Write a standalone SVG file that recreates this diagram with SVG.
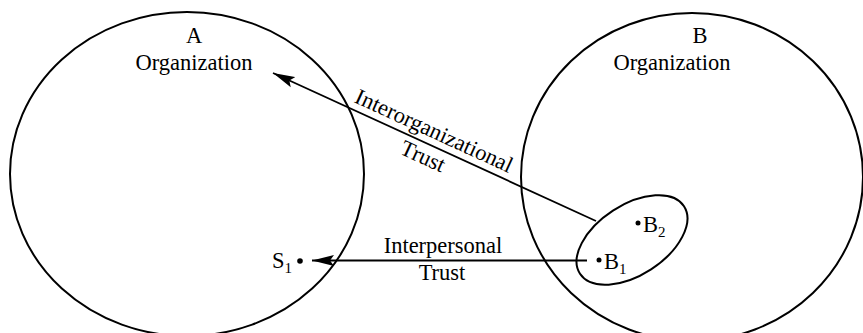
<svg xmlns="http://www.w3.org/2000/svg" width="863" height="333" viewBox="0 0 863 333">
<style>
.o{fill:none;stroke:#000;stroke-width:2}
.c{fill:none;stroke:#000;stroke-width:1.8}
.t{font-family:"Liberation Serif","Times New Roman",serif;font-size:22.5px;fill:#000}
.m{text-anchor:middle}
.s{font-size:15px}
</style>
<defs>
<marker id="ah" markerUnits="userSpaceOnUse" markerWidth="24" markerHeight="12" refX="22" refY="6" orient="auto" viewBox="0 0 24 12">
<path d="M0,0.5 L22,6 L0,11.5 L4,6 Z" fill="#000"/>
</marker>
</defs>
<rect width="863" height="333" fill="#fff"/>
<g id="orgA">
<ellipse class="o" cx="187" cy="174" rx="177" ry="162"/>
<text class="t m" x="194" y="43">A</text>
<text class="t m" x="194" y="70">Organization</text>
</g>
<g id="orgB">
<ellipse class="o" cx="692" cy="177" rx="171" ry="164"/>
<text class="t m" x="700" y="43">B</text>
<text class="t m" x="672" y="70">Organization</text>
</g>
<g id="groupB">
<ellipse class="o" cx="632" cy="240" rx="62" ry="35" transform="rotate(-33 632 240)"/>
</g>
<g id="B1">
<circle cx="599" cy="260" r="2.5"/>
<text class="t" x="604" y="269">B<tspan class="s" dy="5">1</tspan></text>
</g>
<g id="B2">
<circle cx="638" cy="223" r="2.5"/>
<text class="t" x="643" y="232">B<tspan class="s" dy="5">2</tspan></text>
</g>
<g id="S1">
<text class="t" x="272" y="268">S<tspan class="s" dy="5">1</tspan></text>
<circle cx="300" cy="261" r="2.8"/>
</g>
<g id="connectors">
<line class="c" x1="587" y1="260.5" x2="312" y2="260.5" marker-end="url(#ah)"/>
<line class="c" x1="596" y1="221" x2="273" y2="73" marker-end="url(#ah)"/>
</g>
<g id="labels">
<text class="t m" x="431" y="137.5" transform="rotate(24.6 431 137.5)">Interorganizational</text>
<text class="t m" x="420" y="163" transform="rotate(24.6 420 163)">Trust</text>
<text class="t m" x="443" y="253">Interpersonal</text>
<text class="t m" x="442" y="280">Trust</text>
</g>
</svg>
